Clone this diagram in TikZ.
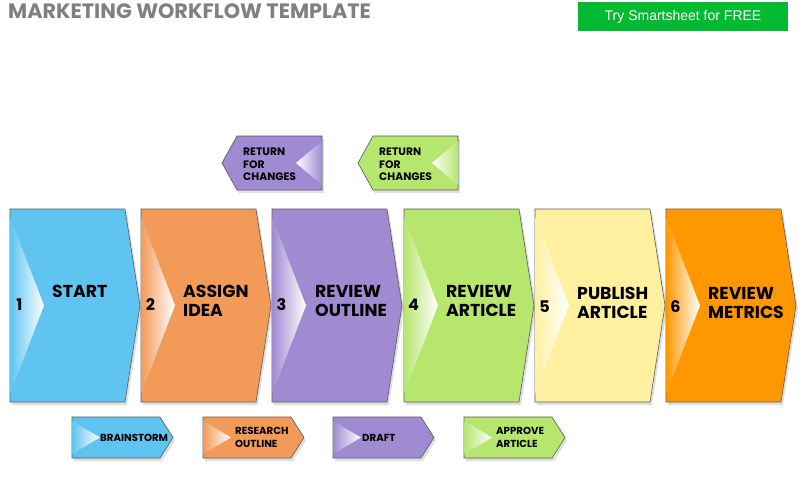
\documentclass[tikz,border=0pt]{standalone}
\usepackage{fontspec}
\setmainfont{Poppins}
\newfontfamily\arialfont{Liberation Sans}
\usetikzlibrary{shadows}
\definecolor{skyblue}{RGB}{96,196,240}
\definecolor{peach}{RGB}{242,154,88}
\definecolor{lavender}{RGB}{160,138,210}
\definecolor{lime}{RGB}{182,230,110}
\definecolor{butter}{RGB}{255,240,160}
\definecolor{amber}{RGB}{255,152,0}
\definecolor{titlegray}{RGB}{128,128,128}
\definecolor{buttongreen}{RGB}{0,186,50}

\begin{document}
\begin{tikzpicture}[x=1pt, y=-1pt]

		\tikzset{
		    stagebox/.style={
        		insert path={(#1,209) -- (#1+115,209) -- (#1+130,305.5) -- (#1+115,402) -- (#1,402) -- cycle}
    		},
		    stagenotch/.style={
        		insert path={(#1,217) -- (#1+34,305.5) -- (#1,394) -- cycle}
    		},
		    taskbox/.style={
        		insert path={(#1,417) -- (#1+88,417) -- (#1+101,437.5) -- (#1+88,458) -- (#1,458) -- cycle}
    		},
		    tasknotch/.style={
        		insert path={(#1,421) -- (#1+28,437.5) -- (#1,454) -- cycle}
    		},
		    returnbox/.style={
        		insert path={(#1,163) -- (#1+15,136) -- (#1+100,136) -- (#1+100,190) -- (#1+15,190) -- cycle}
    		},
		    returnnotch/.style={
        		insert path={(#1+100,141) -- (#1+74,163) -- (#1+100,185) -- cycle}
    		},
		    edge/.style={draw=black!65, line width=0.6pt, drop shadow={opacity=0.25, shadow xshift=2pt, shadow yshift=-3pt}},
		    stagetext/.style={anchor=west, align=left, font=\bfseries\fontsize{17.3}{19}\selectfont, inner sep=0pt},
		    stagenum/.style={font=\bfseries\fontsize{16}{19}\selectfont, inner sep=0pt},
		    tasktext/.style={anchor=west, align=left, font=\bfseries\fontsize{10.2}{12.5}\selectfont, inner sep=0pt},
		    returntext/.style={anchor=west, align=left, font=\bfseries\fontsize{10.8}{12.5}\selectfont, inner sep=0pt}
		}

		\useasboundingbox (0,0) rectangle (800,491);

		% heading

		\node[anchor=west, inner sep=0pt, text=titlegray, font=\bfseries\fontsize{20.8}{22}\selectfont] (heading) at (8,11) {MARKETING WORKFLOW TEMPLATE};
		\node[fill=buttongreen, minimum width=210, minimum height=29, inner sep=0pt, text=white, font=\arialfont\fontsize{14}{16}\selectfont] (button) at (683,16.5) {Try Smartsheet for FREE};

		% main stages

		\fill[skyblue, edge] [stagebox=10];
		\shade[left color=skyblue, right color=white] [stagenotch=10];
		\fill[peach, edge] [stagebox=141];
		\shade[left color=peach, right color=white] [stagenotch=141];
		\fill[lavender, edge] [stagebox=272];
		\shade[left color=lavender, right color=white] [stagenotch=272];
		\fill[lime, edge] [stagebox=404];
		\shade[left color=lime, right color=white] [stagenotch=404];
		\fill[butter, edge] [stagebox=535];
		\shade[left color=butter, right color=white] [stagenotch=535];
		\fill[amber, edge] [stagebox=666];
		\shade[left color=amber, right color=white] [stagenotch=666];

		\node[stagenum] (num1) at (19.5,305) {1};
		\node[stagenum] (num2) at (150.5,305) {2};
		\node[stagenum] (num3) at (281.5,305) {3};
		\node[stagenum] (num4) at (413.5,305) {4};
		\node[stagenum] (num5) at (544.5,307) {5};
		\node[stagenum] (num6) at (675.5,307) {6};

		\node[stagetext] (start) at (52,291) {START};
		\node[stagetext] (assign) at (183,300.5) {ASSIGN\\IDEA};
		\node[stagetext] (outline) at (315,300.5) {REVIEW\\OUTLINE};
		\node[stagetext] (article) at (446,300.5) {REVIEW\\ARTICLE};
		\node[stagetext] (publish) at (577,302.5) {PUBLISH\\ARTICLE};
		\node[stagetext] (metrics) at (708,302.5) {REVIEW\\METRICS};

		% return loops

		\fill[lavender, edge] [returnbox=222];
		\shade[left color=white, right color=lavender] [returnnotch=222];
		\fill[lime, edge] [returnbox=358];
		\shade[left color=white, right color=lime] [returnnotch=358];

		\node[returntext] (return1) at (243,164.5) {RETURN\\FOR\\CHANGES};
		\node[returntext] (return2) at (379,164.5) {RETURN\\FOR\\CHANGES};

		% tasks below

		\fill[skyblue, edge] [taskbox=72];
		\shade[left color=skyblue, right color=white] [tasknotch=72];
		\fill[peach, edge] [taskbox=203];
		\shade[left color=peach, right color=white] [tasknotch=203];
		\fill[lavender, edge] [taskbox=333];
		\shade[left color=lavender, right color=white] [tasknotch=333];
		\fill[lime, edge] [taskbox=464];
		\shade[left color=lime, right color=white] [tasknotch=464];

		\node[tasktext] (brainstorm) at (100,438) {BRAINSTORM};
		\node[tasktext] (research) at (235,437.5) {RESEARCH\\OUTLINE};
		\node[tasktext] (draft) at (362,438) {DRAFT};
		\node[tasktext] (approve) at (496,437.5) {APPROVE\\ARTICLE};

\end{tikzpicture}
\end{document}
